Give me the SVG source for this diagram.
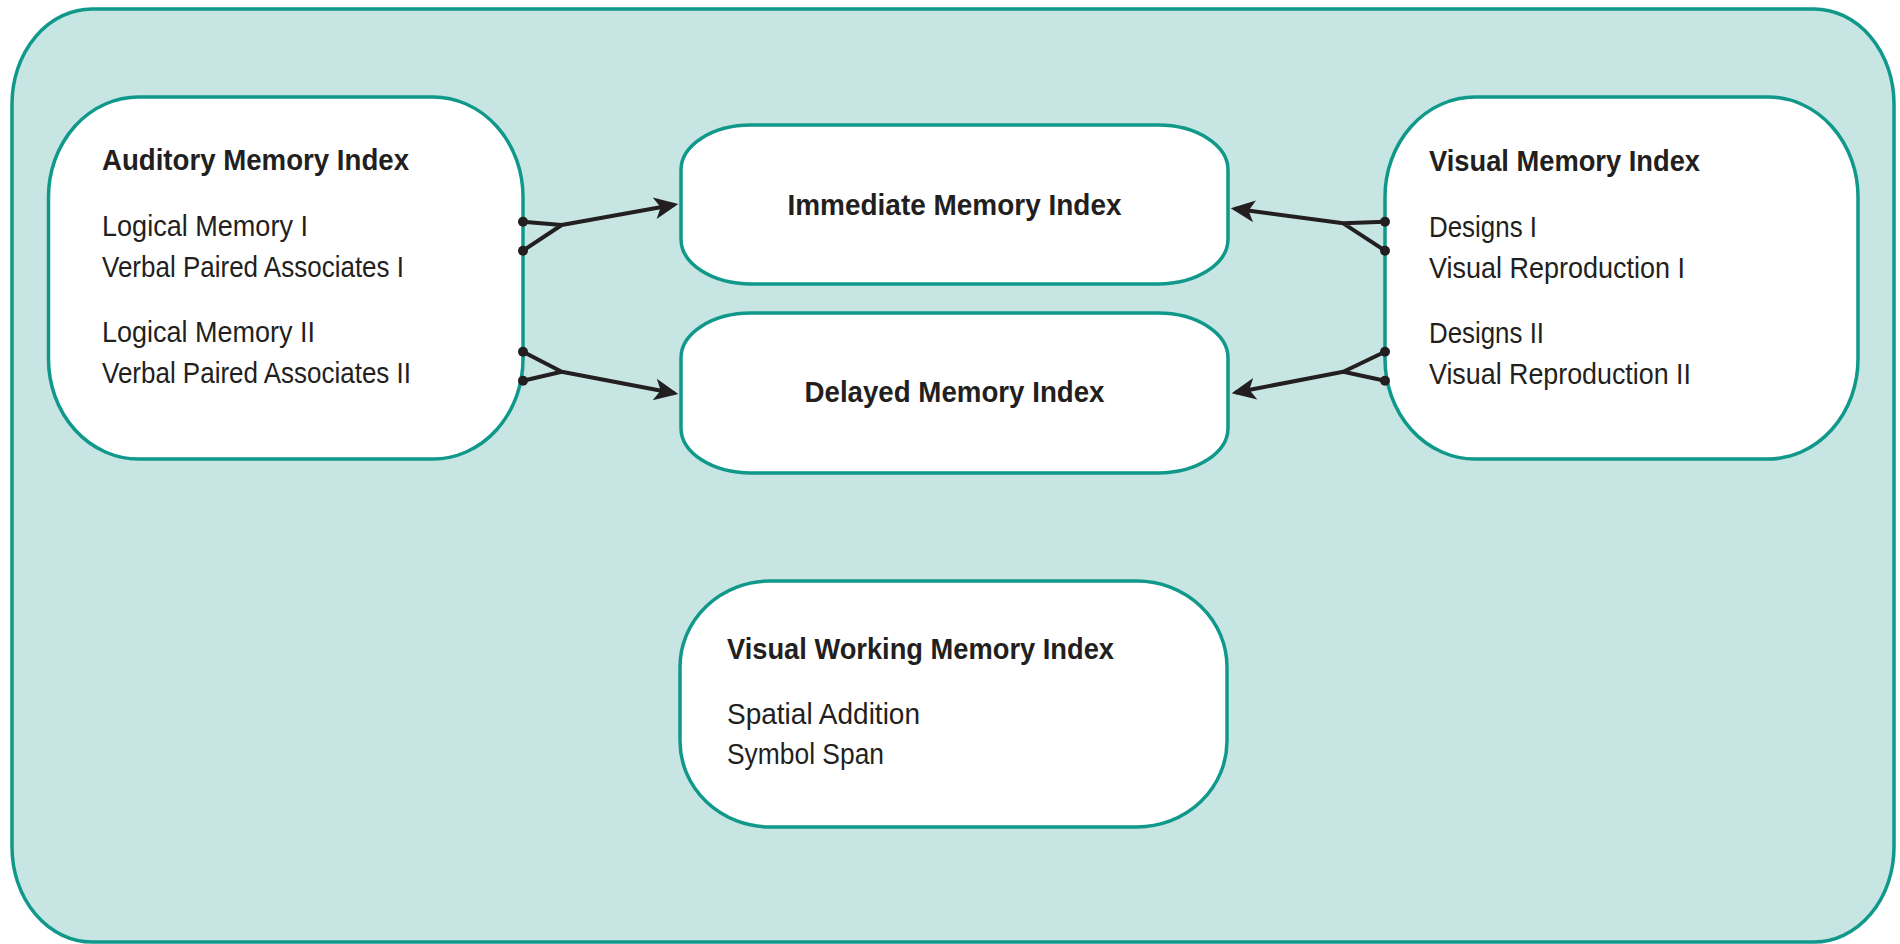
<svg xmlns="http://www.w3.org/2000/svg" width="1900" height="944" viewBox="0 0 1900 944">
  <defs>
    <style>
      .outer { fill: #C7E5E3; stroke: #10998B; stroke-width: 3.5; }
      .box { fill: #FFFFFF; stroke: #10998B; stroke-width: 3.5; }
      .title { font-family: "Liberation Sans", Arial, sans-serif; font-weight: bold; font-size: 30px; fill: #231F20; }
      .item { font-family: "Liberation Sans", Arial, sans-serif; font-size: 30px; fill: #231F20; }
      .conn { fill: none; stroke: #231F20; stroke-width: 4; stroke-linejoin: round; }
      .dot { fill: #231F20; }
    </style>
    <marker id="arrow" markerUnits="userSpaceOnUse" markerWidth="40" markerHeight="40" refX="0" refY="0" orient="auto" overflow="visible">
      <path d="M4,0 L-20,-11 L-14,0 L-20,11 Z" fill="#231F20"/>
    </marker>
  </defs>

  <rect id="container" class="outer" x="12" y="9" width="1882" height="933" rx="80" ry="95"/>

  <g id="auditory">
    <rect class="box" x="48.5" y="97" width="474.5" height="362" rx="90" ry="100"/>
    <text class="title" x="102" y="170" textLength="307" lengthAdjust="spacingAndGlyphs">Auditory Memory Index</text>
    <text class="item" x="102" y="236" textLength="206" lengthAdjust="spacingAndGlyphs">Logical Memory I</text>
    <text class="item" x="102" y="277" textLength="302" lengthAdjust="spacingAndGlyphs">Verbal Paired Associates I</text>
    <text class="item" x="102" y="342" textLength="213" lengthAdjust="spacingAndGlyphs">Logical Memory II</text>
    <text class="item" x="102" y="383" textLength="309" lengthAdjust="spacingAndGlyphs">Verbal Paired Associates II</text>
  </g>

  <g id="visual">
    <rect class="box" x="1385" y="97" width="473" height="362" rx="90" ry="100"/>
    <text class="title" x="1429" y="171" textLength="271" lengthAdjust="spacingAndGlyphs">Visual Memory Index</text>
    <text class="item" x="1429" y="237" textLength="108" lengthAdjust="spacingAndGlyphs">Designs I</text>
    <text class="item" x="1429" y="278" textLength="256" lengthAdjust="spacingAndGlyphs">Visual Reproduction I</text>
    <text class="item" x="1429" y="343" textLength="115" lengthAdjust="spacingAndGlyphs">Designs II</text>
    <text class="item" x="1429" y="384" textLength="262" lengthAdjust="spacingAndGlyphs">Visual Reproduction II</text>
  </g>

  <g id="immediate">
    <rect class="box" x="681" y="125" width="547" height="159" rx="70" ry="45"/>
    <text class="title" x="954.5" y="215" text-anchor="middle" textLength="334" lengthAdjust="spacingAndGlyphs">Immediate Memory Index</text>
  </g>

  <g id="delayed">
    <rect class="box" x="681" y="313" width="547" height="160" rx="70" ry="45"/>
    <text class="title" x="954.5" y="402" text-anchor="middle" textLength="300" lengthAdjust="spacingAndGlyphs">Delayed Memory Index</text>
  </g>

  <g id="working">
    <rect class="box" x="680" y="581" width="547" height="246" rx="90" ry="86"/>
    <text class="title" x="727" y="659" textLength="387" lengthAdjust="spacingAndGlyphs">Visual Working Memory Index</text>
    <text class="item" x="727" y="724" textLength="193" lengthAdjust="spacingAndGlyphs">Spatial Addition</text>
    <text class="item" x="727" y="764" textLength="157" lengthAdjust="spacingAndGlyphs">Symbol Span</text>
  </g>

  <g id="connectors">
    <path class="conn" d="M523,250.7 L561.7,225 M523,221.7 L561.7,225 L674.4,204.7" marker-end="url(#arrow)"/>
    <path class="conn" d="M523,351.7 L561.7,371.7 M523,380.7 L561.7,371.7 L674.4,393.2" marker-end="url(#arrow)"/>
    <path class="conn" d="M1385,250.7 L1343.3,223.3 M1385,221.7 L1343.3,223.3 L1234.7,208.8" marker-end="url(#arrow)"/>
    <path class="conn" d="M1385,351.7 L1343.3,371.7 M1385,380.7 L1343.3,371.7 L1235.6,392.5" marker-end="url(#arrow)"/>
    <circle class="dot" cx="523" cy="221.7" r="5"/>
    <circle class="dot" cx="523" cy="250.7" r="5"/>
    <circle class="dot" cx="523" cy="351.7" r="5"/>
    <circle class="dot" cx="523" cy="380.7" r="5"/>
    <circle class="dot" cx="1385" cy="221.7" r="5"/>
    <circle class="dot" cx="1385" cy="250.7" r="5"/>
    <circle class="dot" cx="1385" cy="351.7" r="5"/>
    <circle class="dot" cx="1385" cy="380.7" r="5"/>
  </g>
</svg>
